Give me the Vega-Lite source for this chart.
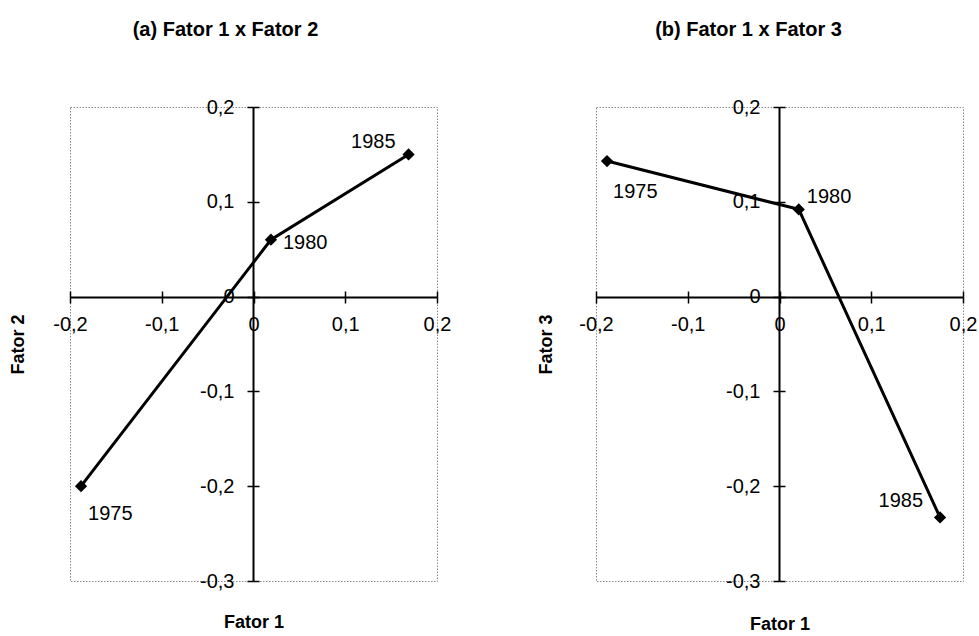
{
  "$schema": "https://vega.github.io/schema/vega-lite/v6.json",
  "padding": {"left": 8, "top": 19, "right": 5, "bottom": 0},
  "datasets": {
    "a": [
      {"ano": "1975", "fator1": -0.188, "fator2": -0.2},
      {"ano": "1980", "fator1": 0.019, "fator2": 0.06},
      {"ano": "1985", "fator1": 0.169, "fator2": 0.15}
    ],
    "b": [
      {"ano": "1975", "fator1": -0.188, "fator3": 0.143},
      {"ano": "1980", "fator1": 0.021, "fator3": 0.092},
      {"ano": "1985", "fator1": 0.175, "fator3": -0.233}
    ]
  },
  "spacing": 84,
  "hconcat": [
    {
      "width": 367,
      "height": 474,
      "title": {"text": "(a) Fator 1 x Fator 2", "dx": -28, "offset": 57, "frame": "group"},
      "data": {"name": "a"},
      "resolve": {"axis": {"x": "independent", "y": "independent"}},
      "layer": [
        {
          "mark": {"type": "line", "color": "black", "strokeWidth": 3},
          "encoding": {
            "order": {"field": "ano", "type": "ordinal"},
            "x": {"field": "fator1", "type": "quantitative", "scale": {"domain": [-0.2, 0.2], "nice": false, "zero": false}, "axis": {"orient": "bottom", "offset": -284, "title": "Fator 1", "titleY": 325, "titleBaseline": "middle", "values": [-0.2, -0.1, 0, 0.1, 0.2]}},
            "y": {"field": "fator2", "type": "quantitative", "scale": {"domain": [-0.3, 0.2], "nice": false, "zero": false}, "axis": {"orient": "left", "offset": -183, "title": "Fator 2", "titleX": -235, "titleBaseline": "middle", "values": [-0.3, -0.2, -0.1, 0, 0.1, 0.2]}}
          }
        },
        {
          "mark": {"type": "point", "shape": "diamond", "filled": true, "color": "black", "size": 150, "opacity": 1},
          "encoding": {
            "x": {"field": "fator1", "type": "quantitative", "scale": {"domain": [-0.2, 0.2], "nice": false, "zero": false}, "axis": {"orient": "top", "offset": -190, "title": null, "labels": false, "domain": false, "values": [-0.2, -0.1, 0, 0.1, 0.2]}},
            "y": {"field": "fator2", "type": "quantitative", "scale": {"domain": [-0.3, 0.2], "nice": false, "zero": false}, "axis": {"orient": "right", "offset": -184, "title": null, "labels": false, "domain": false, "values": [-0.3, -0.2, -0.1, 0, 0.1, 0.2]}}
          }
        },
        {
          "transform": [{"filter": "datum.ano == '1975'"}],
          "mark": {"type": "text", "align": "left", "baseline": "middle", "dx": 7, "dy": 28},
          "encoding": {
            "x": {"field": "fator1", "type": "quantitative", "scale": {"domain": [-0.2, 0.2], "nice": false, "zero": false}, "axis": null},
            "y": {"field": "fator2", "type": "quantitative", "scale": {"domain": [-0.3, 0.2], "nice": false, "zero": false}, "axis": null},
            "text": {"field": "ano", "type": "nominal"}
          }
        },
        {
          "transform": [{"filter": "datum.ano == '1980'"}],
          "mark": {"type": "text", "align": "left", "baseline": "middle", "dx": 12, "dy": 3},
          "encoding": {
            "x": {"field": "fator1", "type": "quantitative", "scale": {"domain": [-0.2, 0.2], "nice": false, "zero": false}, "axis": null},
            "y": {"field": "fator2", "type": "quantitative", "scale": {"domain": [-0.3, 0.2], "nice": false, "zero": false}, "axis": null},
            "text": {"field": "ano", "type": "nominal"}
          }
        },
        {
          "transform": [{"filter": "datum.ano == '1985'"}],
          "mark": {"type": "text", "align": "right", "baseline": "middle", "dx": -13, "dy": -12},
          "encoding": {
            "x": {"field": "fator1", "type": "quantitative", "scale": {"domain": [-0.2, 0.2], "nice": false, "zero": false}, "axis": null},
            "y": {"field": "fator2", "type": "quantitative", "scale": {"domain": [-0.3, 0.2], "nice": false, "zero": false}, "axis": null},
            "text": {"field": "ano", "type": "nominal"}
          }
        }
      ]
    },
    {
      "width": 367,
      "height": 474,
      "title": {"text": "(b) Fator 1 x Fator 3", "dx": -31, "offset": 57, "frame": "group"},
      "data": {"name": "b"},
      "resolve": {"axis": {"x": "independent", "y": "independent"}},
      "layer": [
        {
          "mark": {"type": "line", "color": "black", "strokeWidth": 3},
          "encoding": {
            "order": {"field": "ano", "type": "ordinal"},
            "x": {"field": "fator1", "type": "quantitative", "scale": {"domain": [-0.2, 0.2], "nice": false, "zero": false}, "axis": {"orient": "bottom", "offset": -284, "title": "Fator 1", "titleY": 327, "titleBaseline": "middle", "values": [-0.2, -0.1, 0, 0.1, 0.2]}},
            "y": {"field": "fator3", "type": "quantitative", "scale": {"domain": [-0.3, 0.2], "nice": false, "zero": false}, "axis": {"orient": "left", "offset": -183, "title": "Fator 3", "titleX": -233, "titleBaseline": "middle", "values": [-0.3, -0.2, -0.1, 0, 0.1, 0.2]}}
          }
        },
        {
          "mark": {"type": "point", "shape": "diamond", "filled": true, "color": "black", "size": 150, "opacity": 1},
          "encoding": {
            "x": {"field": "fator1", "type": "quantitative", "scale": {"domain": [-0.2, 0.2], "nice": false, "zero": false}, "axis": {"orient": "top", "offset": -190, "title": null, "labels": false, "domain": false, "values": [-0.2, -0.1, 0, 0.1, 0.2]}},
            "y": {"field": "fator3", "type": "quantitative", "scale": {"domain": [-0.3, 0.2], "nice": false, "zero": false}, "axis": {"orient": "right", "offset": -184, "title": null, "labels": false, "domain": false, "values": [-0.3, -0.2, -0.1, 0, 0.1, 0.2]}}
          }
        },
        {
          "transform": [{"filter": "datum.ano == '1975'"}],
          "mark": {"type": "text", "align": "left", "baseline": "middle", "dx": 6, "dy": 31},
          "encoding": {
            "x": {"field": "fator1", "type": "quantitative", "scale": {"domain": [-0.2, 0.2], "nice": false, "zero": false}, "axis": null},
            "y": {"field": "fator3", "type": "quantitative", "scale": {"domain": [-0.3, 0.2], "nice": false, "zero": false}, "axis": null},
            "text": {"field": "ano", "type": "nominal"}
          }
        },
        {
          "transform": [{"filter": "datum.ano == '1980'"}],
          "mark": {"type": "text", "align": "left", "baseline": "middle", "dx": 8, "dy": -12},
          "encoding": {
            "x": {"field": "fator1", "type": "quantitative", "scale": {"domain": [-0.2, 0.2], "nice": false, "zero": false}, "axis": null},
            "y": {"field": "fator3", "type": "quantitative", "scale": {"domain": [-0.3, 0.2], "nice": false, "zero": false}, "axis": null},
            "text": {"field": "ano", "type": "nominal"}
          }
        },
        {
          "transform": [{"filter": "datum.ano == '1985'"}],
          "mark": {"type": "text", "align": "right", "baseline": "middle", "dx": -17, "dy": -16},
          "encoding": {
            "x": {"field": "fator1", "type": "quantitative", "scale": {"domain": [-0.2, 0.2], "nice": false, "zero": false}, "axis": null},
            "y": {"field": "fator3", "type": "quantitative", "scale": {"domain": [-0.3, 0.2], "nice": false, "zero": false}, "axis": null},
            "text": {"field": "ano", "type": "nominal"}
          }
        }
      ]
    }
  ],
  "config": {
    "view": {"stroke": "#888888", "strokeDash": [1.5, 1.5], "strokeWidth": 1},
    "title": {"font": "Liberation Sans", "fontSize": 20, "fontWeight": "bold", "color": "black"},
    "text": {"font": "Liberation Sans", "fontSize": 20, "color": "black"},
    "axis": {
      "grid": false,
      "domainColor": "black",
      "domainWidth": 2,
      "tickColor": "black",
      "tickWidth": 1.5,
      "tickSize": 6,
      "labelPadding": 13,
      "labelFlush": false,
      "labelOverlap": false,
      "labelFont": "Liberation Sans",
      "labelFontSize": 20,
      "labelColor": "black",
      "labelExpr": "(datum.value < -0.00001 ? '-' : '') + replace(format(abs(datum.value), '.1~f'), '.', ',')",
      "titleFont": "Liberation Sans",
      "titleFontSize": 18,
      "titleFontWeight": "bold",
      "titleColor": "black"
    },
    "axisX": {"labelPadding": 11}
  }
}
